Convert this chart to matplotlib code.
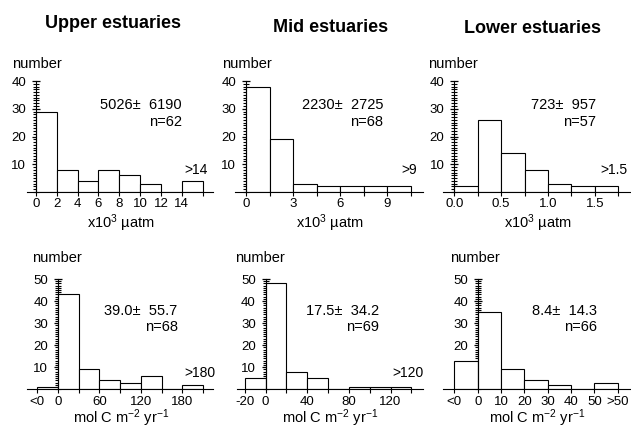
import numpy as np
import matplotlib
matplotlib.use("Agg")
import matplotlib.pyplot as plt
from matplotlib.ticker import FixedLocator, MultipleLocator

plt.rcParams['font.family'] = ['Liberation Sans', 'DejaVu Sans']
plt.rcParams['mathtext.fontset'] = 'custom'
plt.rcParams['mathtext.rm'] = 'Liberation Sans'
plt.rcParams['mathtext.it'] = 'Liberation Sans:italic'

# pCO2 histograms (x10^3 uatm)
upper_pco2_edges = [0, 2, 4, 6, 8, 10, 12, 14, 16]
upper_pco2_counts = [29, 8, 4, 8, 6, 3, 0, 4]
upper_pco2_ticklabels = ['0', '2', '4', '6', '8', '10', '12', '14', '']
mid_pco2_edges = [0, 1.5, 3, 4.5, 6, 7.5, 9, 10.5]
mid_pco2_counts = [38, 19, 3, 2, 2, 2, 2]
mid_pco2_ticklabels = ['0', '', '3', '', '6', '', '9', '']
lower_pco2_edges = [0, 0.25, 0.5, 0.75, 1.0, 1.25, 1.5, 1.75]
lower_pco2_counts = [2, 26, 14, 8, 3, 2, 2]
lower_pco2_ticklabels = ['0.0', '', '0.5', '', '1.0', '', '1.5', '']

# CO2 flux histograms (mol C m-2 yr-1)
upper_flux_edges = [-30, 0, 30, 60, 90, 120, 150, 180, 210]
upper_flux_counts = [1, 43, 9, 4, 3, 6, 0, 2]
upper_flux_ticklabels = ['<0', '0', '', '60', '', '120', '', '180', '']
mid_flux_edges = [-20, 0, 20, 40, 60, 80, 100, 120, 140]
mid_flux_counts = [5, 48, 8, 5, 0, 1, 1, 1]
mid_flux_ticklabels = ['-20', '0', '', '40', '', '80', '', '120', '']
lower_flux_edges = [-10, 0, 10, 20, 30, 40, 50, 60]
lower_flux_counts = [13, 35, 9, 4, 2, 0, 3]
lower_flux_ticklabels = ['<0', '0', '10', '20', '30', '40', '50', '>50']

titles = ['Upper estuaries', 'Mid estuaries', 'Lower estuaries']
pco2_stats = ['5026\u00b1  6190', '2230\u00b1  2725', '723\u00b1  957']
pco2_n = ['n=62', 'n=68', 'n=57']
pco2_over = ['>14', '>9', '>1.5']
flux_stats = ['39.0\u00b1  55.7', '17.5\u00b1  34.2', '8.4\u00b1  14.3']
flux_n = ['n=68', 'n=69', 'n=66']
flux_over = ['>180', '>120', '']

W, H = 631, 428
fig = plt.figure(figsize=(W / 100, H / 100), dpi=100)


def px_axes(left, right, base, top):
    return fig.add_axes([left / W, 1 - base / H, (right - left) / W, (base - top) / H])


def draw_hist(ax, edges, counts, ticklabels, xlim, ymax):
    edges = np.asarray(edges, dtype=float)
    ax.bar(edges[:-1], counts, width=np.diff(edges), align='edge',
           color='white', edgecolor='black', linewidth=0.8, zorder=2)
    ax.set_xlim(*xlim)
    ax.set_ylim(0, ymax)
    for s in ['top', 'right']:
        ax.spines[s].set_visible(False)
    ax.spines['left'].set_position(('data', 0))
    ax.spines['left'].set_bounds(0, ymax)
    ax.spines['left'].set_zorder(3)
    ax.spines['bottom'].set_linewidth(0.8)
    ax.spines['left'].set_linewidth(0.8)
    ax.set_xticks(edges)
    ax.set_xticklabels(ticklabels)
    ax.yaxis.set_major_locator(FixedLocator(np.arange(10, ymax + 1, 10)))
    ax.yaxis.set_minor_locator(MultipleLocator(1))
    ax.tick_params(axis='x', direction='out', length=3, width=0.8, pad=1.5, labelsize=9.5)
    ax.tick_params(axis='y', which='major', direction='inout', length=6, width=0.9,
                   pad=4, labelsize=9.5)
    ax.tick_params(axis='y', which='minor', direction='inout', length=4, width=0.8)
    ax.patch.set_visible(False)


top_rects = [(27, 213), (235, 423), (443, 631)]
top_xlims = [(-0.86, 17.0), (-0.70, 11.28), (-0.12, 1.886)]
bot_rects = [(27, 213), (237, 423), (443, 630)]
bot_xlims = [(-45, 224.6), (-27.4, 151.2), (-14.9, 65.3)]

pco2_sets = [(upper_pco2_edges, upper_pco2_counts, upper_pco2_ticklabels),
             (mid_pco2_edges, mid_pco2_counts, mid_pco2_ticklabels),
             (lower_pco2_edges, lower_pco2_counts, lower_pco2_ticklabels)]
flux_sets = [(upper_flux_edges, upper_flux_counts, upper_flux_ticklabels),
             (mid_flux_edges, mid_flux_counts, mid_flux_ticklabels),
             (lower_flux_edges, lower_flux_counts, lower_flux_ticklabels)]

pco2_text_x = [14.0, 8.75, 1.509]
pco2_over_x = [15.35, 10.4, 1.704]
flux_text_x = [173.5, 109.2, 51]
flux_over_x = [205.8, 136.8, 0]

title_pos = [(113, 23), (331, 27), (532, 28.5)]
top_number_x = [12, 222, 428]
bot_number_x = [32, 235, 450]
top_xlabel_x = [120.5, 330, 538]
bot_xlabel_x = [121, 330, 537]

for i in range(3):
    ax = px_axes(top_rects[i][0], top_rects[i][1], 192, 81)
    edges, counts, labels = pco2_sets[i]
    draw_hist(ax, edges, counts, labels, top_xlims[i], 40)
    ax.text(pco2_text_x[i], 31.5, pco2_stats[i], ha='right', va='center', fontsize=10.5)
    ax.text(pco2_text_x[i], 25.3, pco2_n[i], ha='right', va='center', fontsize=10.5)
    ax.text(pco2_over_x[i], 7.9, pco2_over[i], ha='center', va='center', fontsize=10,
            clip_on=False)

    ax = px_axes(bot_rects[i][0], bot_rects[i][1], 389.3, 279)
    edges, counts, labels = flux_sets[i]
    draw_hist(ax, edges, counts, labels, bot_xlims[i], 50)
    ax.text(flux_text_x[i], 35.6, flux_stats[i], ha='right', va='center', fontsize=10.5)
    ax.text(flux_text_x[i], 28.4, flux_n[i], ha='right', va='center', fontsize=10.5)
    if flux_over[i]:
        ax.text(flux_over_x[i], 7.2, flux_over[i], ha='center', va='center', fontsize=10,
                clip_on=False)

    fig.text(title_pos[i][0] / W, 1 - title_pos[i][1] / H, titles[i], ha='center',
             va='center', fontsize=13, fontweight='bold')
    fig.text(top_number_x[i] / W, 1 - 64.5 / H, 'number', ha='left', va='center',
             fontsize=10.5)
    fig.text(bot_number_x[i] / W, 1 - 258.3 / H, 'number', ha='left', va='center',
             fontsize=10.5)
    fig.text(top_xlabel_x[i] / W, 1 - 227.5 / H, 'x10$^3$ \u00b5atm', ha='center',
             va='baseline', fontsize=10.5)
    fig.text(bot_xlabel_x[i] / W, 1 - 423 / H, 'mol C m$^{-2}$ yr$^{-1}$', ha='center',
             va='baseline', fontsize=10.5)

fig.savefig('out.png', dpi=100)
